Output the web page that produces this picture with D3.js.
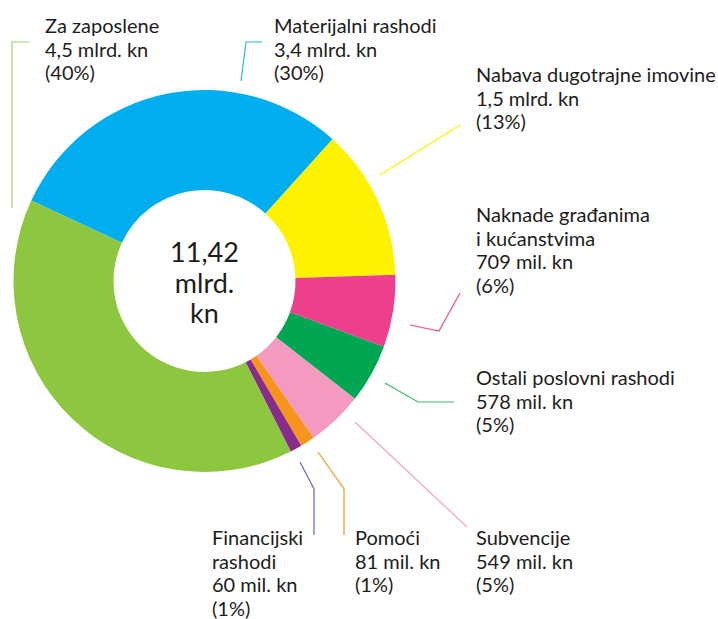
<!DOCTYPE html>
<html>
<head>
<meta charset="utf-8">
<script src="https://cdn.jsdelivr.net/npm/d3@7"></script>
<style>
  body { margin: 0; background: #fff; }
  svg text { font-family: Lato, "DejaVu Sans", sans-serif; font-weight: 400; fill: #1d1d1b; }
</style>
</head>
<body>
<svg width="718" height="619"></svg>
<script>
// kategorije, redoslijed u smjeru kazaljke sata od plavog isječka
const categories = ["Materijalni rashodi", "Nabava dugotrajne imovine", "Naknade građanima i kućanstvima",
  "Ostali poslovni rashodi", "Subvencije", "Pomoći", "Financijski rashodi", "Za zaposlene"];
// udio isječaka kako su nacrtani (%), očitano sa slike
const shares = [29.8, 12.8, 6.1, 5.0, 4.75, 1.22, 1.0, 39.4];
const colors = ["#00aeef", "#fff200", "#ee3f8c", "#00a651", "#f49ac1", "#f7941d", "#862d8b", "#8dc63f"];
const lineColors = ["#29b6ef", "#fff200", "#ee4d92", "#3cb878", "#f4a3c7", "#f7941d", "#6e63b0", "#a5d26a"];

// tekst oznaka
const labelLines = [
  ["Materijalni rashodi", "3,4 mlrd. kn", "(30%)"],
  ["Nabava dugotrajne imovine", "1,5 mlrd. kn", "(13%)"],
  ["Naknade građanima", "i kućanstvima", "709 mil. kn", "(6%)"],
  ["Ostali poslovni rashodi", "578 mil. kn", "(5%)"],
  ["Subvencije", "549 mil. kn", "(5%)"],
  ["Pomoći", "81 mil. kn", "(1%)"],
  ["Financijski", "rashodi", "60 mil. kn", "(1%)"],
  ["Za zaposlene", "4,5 mlrd. kn", "(40%)"]
];
const centerLines = ["11,42", "mlrd.", "kn"];

// položaj oznaka i linija vodilica
const labelPos = [[274, 33], [476, 82], [476, 222], [476, 385], [476, 545], [355, 545], [212, 545], [45, 33]];
const leaders = [
  [[241, 81], [246, 42], [262, 42]],
  [[380, 175], [460, 125]],
  [[410, 325], [439, 331], [460, 293]],
  [[385, 383], [418, 402], [454, 402]],
  [[355, 422], [467, 527]],
  [[318, 452], [344, 489], [344, 535]],
  [[300, 462], [314, 489], [314, 535]],
  [[12, 208], [12, 42], [29, 42]]
];

const svg = d3.select("svg");
const cx = 204.5, cy = 281, outerR = 191, innerR = 91;
const start = -65.1 * Math.PI / 180;

const pie = d3.pie()
    .sort(null)
    .startAngle(start)
    .endAngle(start + 2 * Math.PI);

const arc = d3.arc().innerRadius(innerR).outerRadius(outerR);

const g = svg.append("g").attr("transform", `translate(${cx},${cy})`);
g.selectAll("path")
    .data(pie(shares))
    .enter()
    .append("path")
    .attr("d", arc)
    .style("fill", (d, i) => colors[i]);

g.selectAll(".center")
    .data(centerLines)
    .enter()
    .append("text")
    .attr("text-anchor", "middle")
    .attr("y", (d, i) => -19 + i * 30.5)
    .style("font-size", "27px")
    .text(d => d);

const line = d3.line();
svg.selectAll(".leader")
    .data(leaders)
    .enter()
    .append("path")
    .attr("d", d => line(d))
    .style("fill", "none")
    .style("stroke", (d, i) => lineColors[i])
    .style("stroke-width", 1.2);

labelLines.forEach((lines, i) => {
    const t = svg.append("text")
        .attr("x", labelPos[i][0])
        .attr("y", labelPos[i][1])
        .style("font-size", "20px");
    lines.forEach((s, j) => {
        t.append("tspan")
            .attr("x", labelPos[i][0])
            .attr("dy", j == 0 ? 0 : 23.5)
            .text(s);
    });
});
</script>
</body>
</html>
